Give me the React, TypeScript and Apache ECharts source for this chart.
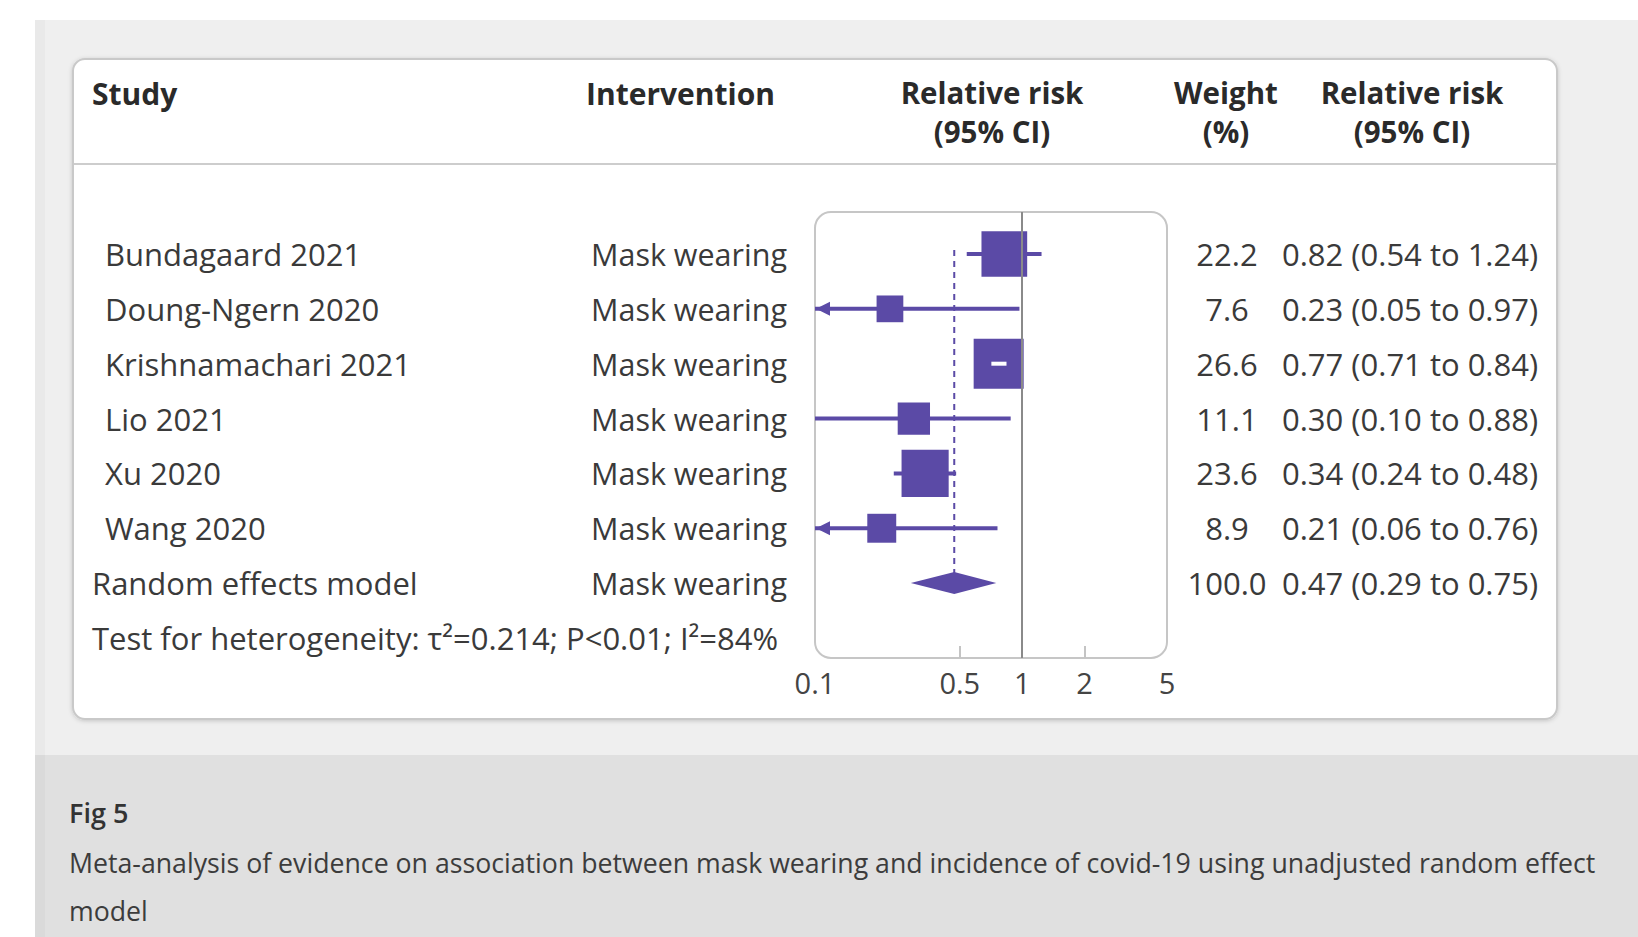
import React, { useEffect, useRef } from "react";
import * as echarts from "echarts";

// ---------- data ----------
const studies = [
  "Bundagaard 2021",
  "Doung-Ngern 2020",
  "Krishnamachari 2021",
  "Lio 2021",
  "Xu 2020",
  "Wang 2020",
];
const interventions = [
  "Mask wearing",
  "Mask wearing",
  "Mask wearing",
  "Mask wearing",
  "Mask wearing",
  "Mask wearing",
];
const relativeRisk = [0.82, 0.23, 0.77, 0.3, 0.34, 0.21];
const lowerCI = [0.54, 0.05, 0.71, 0.1, 0.24, 0.06];
const upperCI = [1.24, 0.97, 0.84, 0.88, 0.48, 0.76];
const weights = [22.2, 7.6, 26.6, 11.1, 23.6, 8.9];

const pooledLabel = "Random effects model";
const pooledIntervention = "Mask wearing";
const pooledRR = 0.47;
const pooledLower = 0.29;
const pooledUpper = 0.75;
const pooledWeight = 100.0;

const heterogeneityText = "Test for heterogeneity: τ²=0.214; P<0.01; I²=84%";
const xTickLabels = [0.1, 0.5, 1, 2, 5];
const xInnerTicks = [0.5, 1, 2];
const figTitle = "Fig 5";
const captionLines = [
  "Meta-analysis of evidence on association between mask wearing and incidence of covid-19 using unadjusted random effect",
  "model",
];

// ---------- style / layout ----------
const FONT = "'Open Sans', 'Noto Sans', sans-serif";
const PURPLE = "#5b4aa6";
const TEXT = "#3a3a3a";
const HEAD = "#2a2a2a";
const PANEL = { l: 815, r: 1167, t: 212, b: 658 };
const ROW0 = 254;
const ROWSTEP = 54.85;
const X_STUDY = 105;
const X_POOLED = 92;
const X_INTERV = 591;
const X_WEIGHT = 1227;
const X_RR = 1282;
const ROW_FONT = 31;

const fmt2 = (v: number) => v.toFixed(2);
const rrText = (r: number, l: number, h: number) => `${fmt2(r)} (${fmt2(l)} to ${fmt2(h)})`;

function rowTexts(y: number, label: string, labelX: number, interv: string, w: number, rr: string) {
  const base = { fill: TEXT, fontSize: ROW_FONT, fontFamily: FONT, verticalAlign: "middle" };
  return [
    { type: "text", x: labelX, y, style: { ...base, text: label, align: "left" } },
    { type: "text", x: X_INTERV, y, style: { ...base, text: interv, align: "left", fontSize: 30.5 } },
    { type: "text", x: X_WEIGHT, y, style: { ...base, text: w.toFixed(1), align: "center" } },
    { type: "text", x: X_RR, y, style: { ...base, text: rr, align: "left" } },
  ];
}

export default function App() {
  const ref = useRef<HTMLDivElement>(null);

  useEffect(() => {
    if (!ref.current) return;
    const chart = echarts.init(ref.current, undefined, { renderer: "svg" });

    const studyData = studies.map((_, i) => [relativeRisk[i], lowerCI[i], upperCI[i], i, weights[i]]);
    const pooledRow = studies.length;
    const pooledData = [[pooledRR, pooledLower, pooledUpper, pooledRow, pooledWeight]];

    const yMin = -(ROW0 - PANEL.t) / ROWSTEP;
    const yMax = (PANEL.b - ROW0) / ROWSTEP;

    const header = (x: number, y: number, text: string, align: string, size = 29.5) => ({
      type: "text",
      x,
      y,
      style: {
        text,
        fill: HEAD,
        fontSize: size,
        fontWeight: "bold",
        fontFamily: FONT,
        align,
        verticalAlign: "middle",
      },
    });
    const H0 = 93.5;
    const H1 = 92;
    const H2 = 131;

    const option: any = {
      animation: false,
      backgroundColor: "#ffffff",
      grid: {
        left: PANEL.l,
        top: PANEL.t,
        width: PANEL.r - PANEL.l,
        height: PANEL.b - PANEL.t,
        containLabel: false,
      },
      xAxis: {
        type: "log",
        logBase: 10,
        min: 0.1,
        max: 5,
        position: "bottom",
        axisLine: { show: false, onZero: false },
        splitLine: { show: false },
        minorTick: { show: false },
        axisTick: {
          show: true,
          inside: true,
          length: 12,
          customValues: xInnerTicks,
          lineStyle: { color: "#c4c4c4", width: 2 },
        },
        axisLabel: {
          customValues: xTickLabels,
          fontSize: 29,
          fontFamily: FONT,
          color: "#444",
          margin: 10,
          formatter: (v: number) => String(v),
        },
      },
      yAxis: {
        type: "value",
        inverse: true,
        min: yMin,
        max: yMax,
        show: false,
      },
      graphic: [
        // page backgrounds
        { type: "rect", shape: { x: 35, y: 20, width: 1603, height: 735 }, style: { fill: "#efefef" }, z: -10 },
        { type: "rect", shape: { x: 35, y: 755, width: 1603, height: 182 }, style: { fill: "#e0e0e0" }, z: -10 },
        { type: "rect", shape: { x: 35, y: 20, width: 10, height: 917 }, style: { fill: "rgba(0,0,0,0.025)" }, z: -9 },
        // card
        {
          type: "rect",
          shape: { x: 73, y: 59, width: 1484, height: 660, r: 12 },
          style: { fill: "#ffffff", stroke: "#c9c9c9", lineWidth: 2, shadowBlur: 4, shadowColor: "rgba(0,0,0,0.18)", shadowOffsetY: 1 },
          z: -8,
        },
        { type: "line", shape: { x1: 74, y1: 164, x2: 1556, y2: 164 }, style: { stroke: "#cdcdcd", lineWidth: 2 }, z: -7 },
        // forest panel
        {
          type: "rect",
          shape: { x: PANEL.l, y: PANEL.t, width: PANEL.r - PANEL.l, height: PANEL.b - PANEL.t, r: 16 },
          style: { fill: "none", stroke: "#c6c6c6", lineWidth: 2 },
          z: -5,
        },
        // headers
        header(92, H0, "Study", "left", 30),
        header(586, H0, "Intervention", "left", 30),
        header(992, H1, "Relative risk", "center"),
        header(992, H2, "(95% CI)", "center"),
        header(1226, H1, "Weight", "center"),
        header(1226, H2, "(%)", "center"),
        header(1412, H1, "Relative risk", "center"),
        header(1412, H2, "(95% CI)", "center"),
        // heterogeneity
        {
          type: "text",
          x: X_POOLED,
          y: ROW0 + ROWSTEP * (pooledRow + 1),
          style: { text: heterogeneityText, fill: TEXT, fontSize: ROW_FONT, fontFamily: FONT, align: "left", verticalAlign: "middle" },
        },
        // caption
        {
          type: "text",
          x: 69,
          y: 812,
          style: { text: figTitle, fill: "#333", fontSize: 27, fontWeight: 600, fontFamily: FONT, align: "left", verticalAlign: "middle" },
        },
        ...captionLines.map((t, i) => ({
          type: "text",
          x: 69,
          y: 862 + i * 48,
          style: { text: t, fill: "#3c3c3c", fontSize: 26.7, fontFamily: FONT, align: "left", verticalAlign: "middle" },
        })),
      ],
      series: [
        {
          // pooled estimate guide line + null line
          type: "custom",
          z: 1,
          data: pooledData,
          encode: { x: 0, y: 3 },
          renderItem: (params: any, api: any) => {
            const top = api.coord([api.value(0), 0]);
            const bot = api.coord([api.value(0), api.value(3)]);
            return {
              type: "line",
              shape: { x1: top[0], y1: top[1] - 4, x2: bot[0], y2: bot[1] },
              style: { stroke: PURPLE, lineWidth: 2, lineDash: [6, 5] },
            };
          },
          markLine: {
            silent: true,
            symbol: "none",
            label: { show: false },
            lineStyle: { color: "#8a8a8a", width: 2, type: "solid" },
            data: [{ xAxis: 1 }],
          },
        },
        {
          // individual studies
          type: "custom",
          z: 3,
          data: studyData,
          encode: { x: 0, y: 3 },
          renderItem: (params: any, api: any) => {
            const i = params.dataIndex;
            const est = api.value(0);
            const lo = api.value(1);
            const hi = api.value(2);
            const row = api.value(3);
            const w = api.value(4);
            const cs = params.coordSys;
            const xMin = cs.x;
            const xMax = cs.x + cs.width;
            const pE = api.coord([est, row]);
            const y = pE[1];
            const xLo = Math.max(xMin, api.coord([lo, row])[0]);
            const xHi = Math.min(xMax, api.coord([hi, row])[0]);
            const size = 9.7 * Math.sqrt(w);
            const children: any[] = [
              { type: "line", shape: { x1: xLo, y1: y, x2: xHi, y2: y }, style: { stroke: PURPLE, lineWidth: 4 } },
            ];
            if (lo < 0.1) {
              children.push({
                type: "polygon",
                shape: { points: [[xMin + 1, y], [xMin + 15, y - 7], [xMin + 15, y + 7]] },
                style: { fill: PURPLE },
              });
            }
            children.push({
              type: "rect",
              shape: { x: pE[0] - size / 2, y: y - size / 2, width: size, height: size },
              style: { fill: PURPLE },
            });
            if (xLo > pE[0] - size / 2 && xHi < pE[0] + size / 2) {
              children.push({
                type: "line",
                shape: { x1: xLo, y1: y, x2: xHi, y2: y },
                style: { stroke: "#ffffff", lineWidth: 4 },
              });
            }
            children.push(
              ...rowTexts(y, studies[i], X_STUDY, interventions[i], weights[i], rrText(relativeRisk[i], lowerCI[i], upperCI[i]))
            );
            return { type: "group", children };
          },
        },
        {
          // pooled diamond
          type: "custom",
          z: 4,
          data: pooledData,
          encode: { x: 0, y: 3 },
          renderItem: (params: any, api: any) => {
            const row = api.value(3);
            const pE = api.coord([api.value(0), row]);
            const xLo = api.coord([api.value(1), row])[0];
            const xHi = api.coord([api.value(2), row])[0];
            const y = pE[1];
            const h = 11;
            return {
              type: "group",
              children: [
                {
                  type: "polygon",
                  shape: { points: [[xLo, y], [pE[0], y - h], [xHi, y], [pE[0], y + h]] },
                  style: { fill: PURPLE },
                },
                ...rowTexts(y, pooledLabel, X_POOLED, pooledIntervention, pooledWeight, rrText(pooledRR, pooledLower, pooledUpper)),
              ],
            };
          },
        },
      ],
    };

    chart.setOption(option);
    return () => chart.dispose();
  }, []);

  return (
    <div
      ref={ref}
      style={{ position: "fixed", left: 0, top: 0, width: "1638px", height: "937px" }}
    />
  );
}
